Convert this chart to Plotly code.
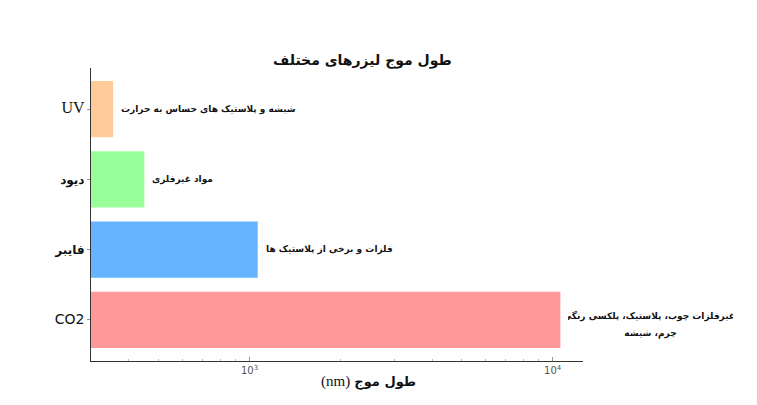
import plotly.graph_objects as go
import math

categories = ["CO2", "فایبر", "دیود", "UV"]
tick_labels = [
    "<span style=\"font-family:'DejaVu Sans';font-size:14px\">CO2</span>",
    "<b>فایبر</b>",
    "<b>دیود</b>",
    "<span style=\"font-family:'Liberation Serif',serif;font-size:16px\">UV</span>",
]
wavelengths = [10600, 1064, 450, 355]
materials = [
    "غیرفلزات چوب، پلاستیک، پلکسی رنگی،<br>چرم، شیشه",
    "فلزات و برخی از پلاستیک ها",
    "مواد غیرفلزی",
    "شیشه و پلاستیک های حساس به حرارت",
]
colors = ["#ff9999", "#66b3ff", "#99ff99", "#ffcc99"]
major_ticks = [1000, 10000]
major_labels = ["10<sup>3</sup>", "10<sup>4</sup>"]
minor_ticks = [400, 500, 600, 700, 800, 900, 2000, 3000, 4000, 5000, 6000, 7000, 8000, 9000]

ypos = list(range(len(categories)))

W, H = 757, 405
pl, pr, pt, pb = 91, 174, 68, 44
pw, ph = W - pl - pr, H - pt - pb

fig = go.Figure()
fig.add_trace(go.Bar(
    x=wavelengths, y=ypos, orientation="h",
    marker=dict(color=colors, line=dict(width=0)),
    width=0.8, showlegend=False, hoverinfo="skip",
))

for i, (w, t) in enumerate(zip(wavelengths, materials)):
    lines = t.split("<br>")
    n = len(lines)
    for k, line in enumerate(lines):
        kw = dict(width=165) if n > 1 else {}
        fig.add_annotation(
            x=math.log10(w), y=ypos[i], xref="x", yref="y",
            text="<b>" + line + "</b>", showarrow=False,
            xanchor="left", yanchor="middle", xshift=6,
            yshift=(n - 1) * 9 - 18 * k - (5 if n > 1 else 0),
            align="center",
            font=dict(family="DejaVu Sans", size=9, color="#111"),
            **kw,
        )

def px_to_paper(px_x, px_y):
    return (px_x - pl) / pw, 1 - (px_y - pt) / ph

tx, ty = px_to_paper(362, 60)
fig.add_annotation(
    x=tx, y=ty, xref="paper", yref="paper",
    text="<b>طول موج لیزرهای مختلف</b>", showarrow=False,
    xanchor="center", yanchor="middle",
    font=dict(family="DejaVu Sans", size=14, color="#111"),
)
ax, ay = px_to_paper(368, 381)
fig.add_annotation(
    x=ax, y=ay, xref="paper", yref="paper",
    text="<span style=\"font-family:'Liberation Serif',serif;font-size:15px\">(nm)</span> <b>طول موج</b>",
    showarrow=False, xanchor="center", yanchor="middle",
    font=dict(family="DejaVu Sans", size=13, color="#111"),
)

fig.update_layout(
    width=W, height=H,
    margin=dict(l=pl, r=pr, t=pt, b=pb),
    paper_bgcolor="white", plot_bgcolor="white",
    bargap=0.2,
)

fig.update_xaxes(
    type="log", range=[math.log10(300), 4.1],
    showline=True, linecolor="#333", linewidth=1.2,
    showgrid=False, zeroline=False,
    tickmode="array", tickvals=major_ticks, ticktext=major_labels,
    ticks="inside", ticklen=4, tickcolor="#999", tickwidth=1,
    tickfont=dict(family="DejaVu Sans", size=10, color="#555"),
    minor=dict(tickvals=minor_ticks, ticks="inside", ticklen=2, tickcolor="#bbb", tickwidth=1, showgrid=False),
)
fig.update_yaxes(
    range=[-0.585, 3.585],
    showline=True, linecolor="#333", linewidth=1.2,
    showgrid=False, zeroline=False,
    tickmode="array", tickvals=ypos, ticktext=tick_labels,
    ticks="outside", ticklen=3, tickcolor="#999",
    tickfont=dict(family="DejaVu Sans", size=12, color="#111"),
)

fig.write_html("out.html")
